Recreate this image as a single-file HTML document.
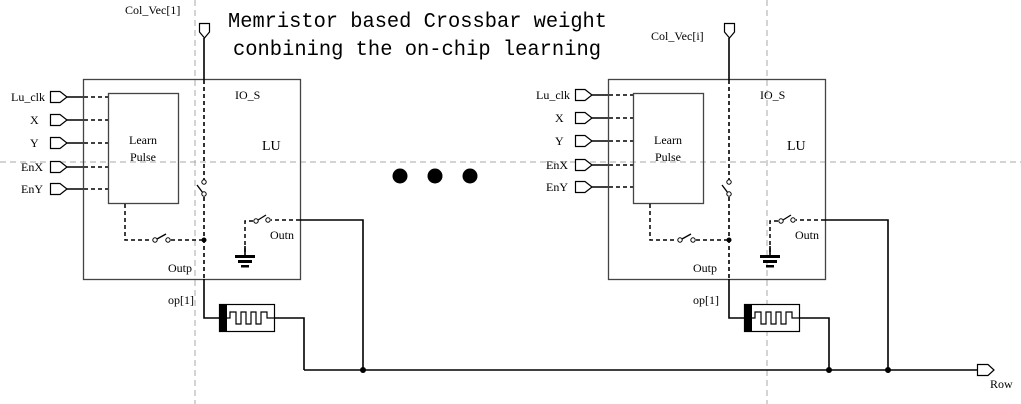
<!DOCTYPE html>
<html><head><meta charset="utf-8"><style>
html,body{margin:0;padding:0;background:#fff;}
svg{display:block;}
text{font-family:"Liberation Serif",serif;font-size:12px;fill:#000;}
.t{font-family:"Liberation Mono",monospace;font-size:21px;}
</style></head><body>
<svg width="1021" height="404" viewBox="0 0 1021 404" xmlns="http://www.w3.org/2000/svg">
<defs>
<g id="blk">
  <rect x="83.5" y="79.5" width="217" height="200" fill="none" stroke="#444" stroke-width="1.3"/>
  <rect x="108.5" y="93.5" width="70" height="110" fill="none" stroke="#444" stroke-width="1.3"/>
  <text x="143" y="144" text-anchor="middle">Learn</text>
  <text x="143" y="161" text-anchor="middle">Pulse</text>
  <text x="235" y="99">IO_S</text>
  <text x="262" y="150" style="font-size:14px">LU</text>
  <text x="168" y="272">Outp</text>
  <text x="270" y="239">Outn</text>
  <path d="M199.5 23.5 H209.5 V32 L204.5 38 L199.5 32 Z" fill="#fff" stroke="#000" stroke-width="1.2"/>
  <line x1="204" y1="38" x2="204" y2="80" stroke="#000" stroke-width="1.6"/>
  <line x1="204" y1="80" x2="204" y2="180" stroke="#000" stroke-width="1.6" stroke-dasharray="4,3"/>
  <circle cx="204" cy="182" r="2.2" fill="#fff" stroke="#000"/>
  <line x1="197" y1="185" x2="203" y2="193" stroke="#000" stroke-width="1.3"/>
  <circle cx="204" cy="194" r="2.2" fill="#fff" stroke="#000"/>
  <line x1="204" y1="197" x2="204" y2="279" stroke="#000" stroke-width="1.6" stroke-dasharray="4,3"/>
  <polyline points="204,279 204,318 219,318" fill="none" stroke="#000" stroke-width="1.6"/>
  <circle cx="204" cy="240" r="2.5" fill="#000"/>
  <polyline points="125,204 125,240 152,240" fill="none" stroke="#000" stroke-width="1.5" stroke-dasharray="4,3"/>
  <circle cx="155" cy="240" r="2.2" fill="#fff" stroke="#000"/>
  <line x1="157" y1="239" x2="166" y2="234" stroke="#000" stroke-width="1.3"/>
  <circle cx="168" cy="240" r="2.2" fill="#fff" stroke="#000"/>
  <line x1="171" y1="240" x2="204" y2="240" stroke="#000" stroke-width="1.5" stroke-dasharray="4,3"/>
  <line x1="300" y1="220" x2="271" y2="220" stroke="#000" stroke-width="1.5" stroke-dasharray="4,3"/>
  <circle cx="268" cy="220" r="2.2" fill="#fff" stroke="#000"/>
  <line x1="258" y1="220" x2="266" y2="215" stroke="#000" stroke-width="1.3"/>
  <circle cx="256" cy="221" r="2.2" fill="#fff" stroke="#000"/>
  <polyline points="253,221 245,221 245,255" fill="none" stroke="#000" stroke-width="1.5" stroke-dasharray="4,3"/>
  <line x1="245" y1="246" x2="245" y2="256" stroke="#000" stroke-width="1.6"/>
  <rect x="235" y="255" width="20" height="3" fill="#000"/>
  <rect x="238" y="260" width="14" height="3" fill="#000"/>
  <rect x="241" y="265" width="8" height="2.5" fill="#000"/>
  <polyline points="300,220 363,220 363,370" fill="none" stroke="#000" stroke-width="1.6"/>
  <rect x="219.5" y="304.5" width="55" height="27" fill="#fff" stroke="#000" stroke-width="1.2"/>
  <rect x="219" y="304" width="8" height="28" fill="#000"/>
  <polyline points="227,318 230,318 230,312 236,312 236,324 241,324 241,312 246,312 246,324 251,324 251,312 256,312 256,324 261,324 261,312 267,312 267,318 274,318" fill="none" stroke="#000" stroke-width="1.2"/>
  <polyline points="274,318 304,318 304,370" fill="none" stroke="#000" stroke-width="1.6"/>
  <circle cx="363" cy="370" r="3" fill="#000"/>
  <text x="168" y="304">op[1]</text>
</g>
</defs>
<line x1="0" y1="162" x2="1021" y2="162" stroke="#aaa" stroke-dasharray="6,4"/>
<line x1="195" y1="0" x2="195" y2="404" stroke="#aaa" stroke-dasharray="6,4"/>
<line x1="767" y1="0" x2="767" y2="404" stroke="#aaa" stroke-dasharray="6,4"/>

<text class="t" x="228" y="27" textLength="379" lengthAdjust="spacingAndGlyphs">Memristor based Crossbar weight</text>
<text class="t" x="233" y="55" textLength="368" lengthAdjust="spacingAndGlyphs">conbining the on-chip learning</text>
<text x="125" y="14">Col_Vec[1]</text>
<text x="651" y="40">Col_Vec[i]</text>

<g stroke="#000" fill="#fff" stroke-width="1.2">
  <path d="M50.5 91.5 H60 L67 97 L60 102.5 H50.5 Z"/>
  <path d="M50.5 114.5 H60 L67 120 L60 125.5 H50.5 Z"/>
  <path d="M50.5 137.5 H60 L67 143 L60 148.5 H50.5 Z"/>
  <path d="M50.5 161.5 H60 L67 167 L60 172.5 H50.5 Z"/>
  <path d="M50.5 183.5 H60 L67 189 L60 194.5 H50.5 Z"/>
</g>
<g stroke="#000" stroke-width="1.6">
  <line x1="67" y1="97" x2="84" y2="97"/><line x1="67" y1="120" x2="84" y2="120"/><line x1="67" y1="143" x2="84" y2="143"/><line x1="67" y1="167" x2="84" y2="167"/><line x1="67" y1="189" x2="84" y2="189"/>
</g>
<g stroke="#000" stroke-width="1.5" stroke-dasharray="4,3">
  <line x1="84" y1="97" x2="108" y2="97"/><line x1="84" y1="120" x2="108" y2="120"/><line x1="84" y1="143" x2="108" y2="143"/><line x1="84" y1="167" x2="108" y2="167"/><line x1="84" y1="189" x2="108" y2="189"/>
</g>
<text x="11" y="101">Lu_clk</text><text x="30" y="124">X</text><text x="30" y="147">Y</text><text x="21" y="171">EnX</text><text x="21" y="193">EnY</text>

<g stroke="#000" fill="#fff" stroke-width="1.2">
  <path d="M575.5 89.5 H585 L592 95 L585 100.5 H575.5 Z"/>
  <path d="M575.5 112.5 H585 L592 118 L585 123.5 H575.5 Z"/>
  <path d="M575.5 135.5 H585 L592 141 L585 146.5 H575.5 Z"/>
  <path d="M575.5 159.5 H585 L592 165 L585 170.5 H575.5 Z"/>
  <path d="M575.5 181.5 H585 L592 187 L585 192.5 H575.5 Z"/>
</g>
<g stroke="#000" stroke-width="1.6">
  <line x1="592" y1="95" x2="609" y2="95"/><line x1="592" y1="118" x2="609" y2="118"/><line x1="592" y1="141" x2="609" y2="141"/><line x1="592" y1="165" x2="609" y2="165"/><line x1="592" y1="187" x2="609" y2="187"/>
</g>
<g stroke="#000" stroke-width="1.5" stroke-dasharray="4,3">
  <line x1="609" y1="95" x2="633" y2="95"/><line x1="609" y1="118" x2="633" y2="118"/><line x1="609" y1="141" x2="633" y2="141"/><line x1="609" y1="165" x2="633" y2="165"/><line x1="609" y1="187" x2="633" y2="187"/>
</g>
<text x="536" y="99">Lu_clk</text><text x="555" y="122">X</text><text x="555" y="145">Y</text><text x="546" y="169">EnX</text><text x="546" y="191">EnY</text>

<use href="#blk"/>
<g transform="translate(525,0)"><use href="#blk"/></g>
<circle cx="829" cy="370" r="3" fill="#000"/>

<line x1="304" y1="370" x2="977" y2="370" stroke="#000" stroke-width="1.6"/>
<path d="M977.5 364.5 H988 L994 370 L988 375.5 H977.5 Z" fill="#fff" stroke="#000" stroke-width="1.2"/>
<text x="990" y="388">Row</text>

<circle cx="400" cy="176" r="7.5" fill="#000"/>
<circle cx="435" cy="176" r="7.5" fill="#000"/>
<circle cx="470" cy="176" r="7.5" fill="#000"/>
</svg>
</body></html>
